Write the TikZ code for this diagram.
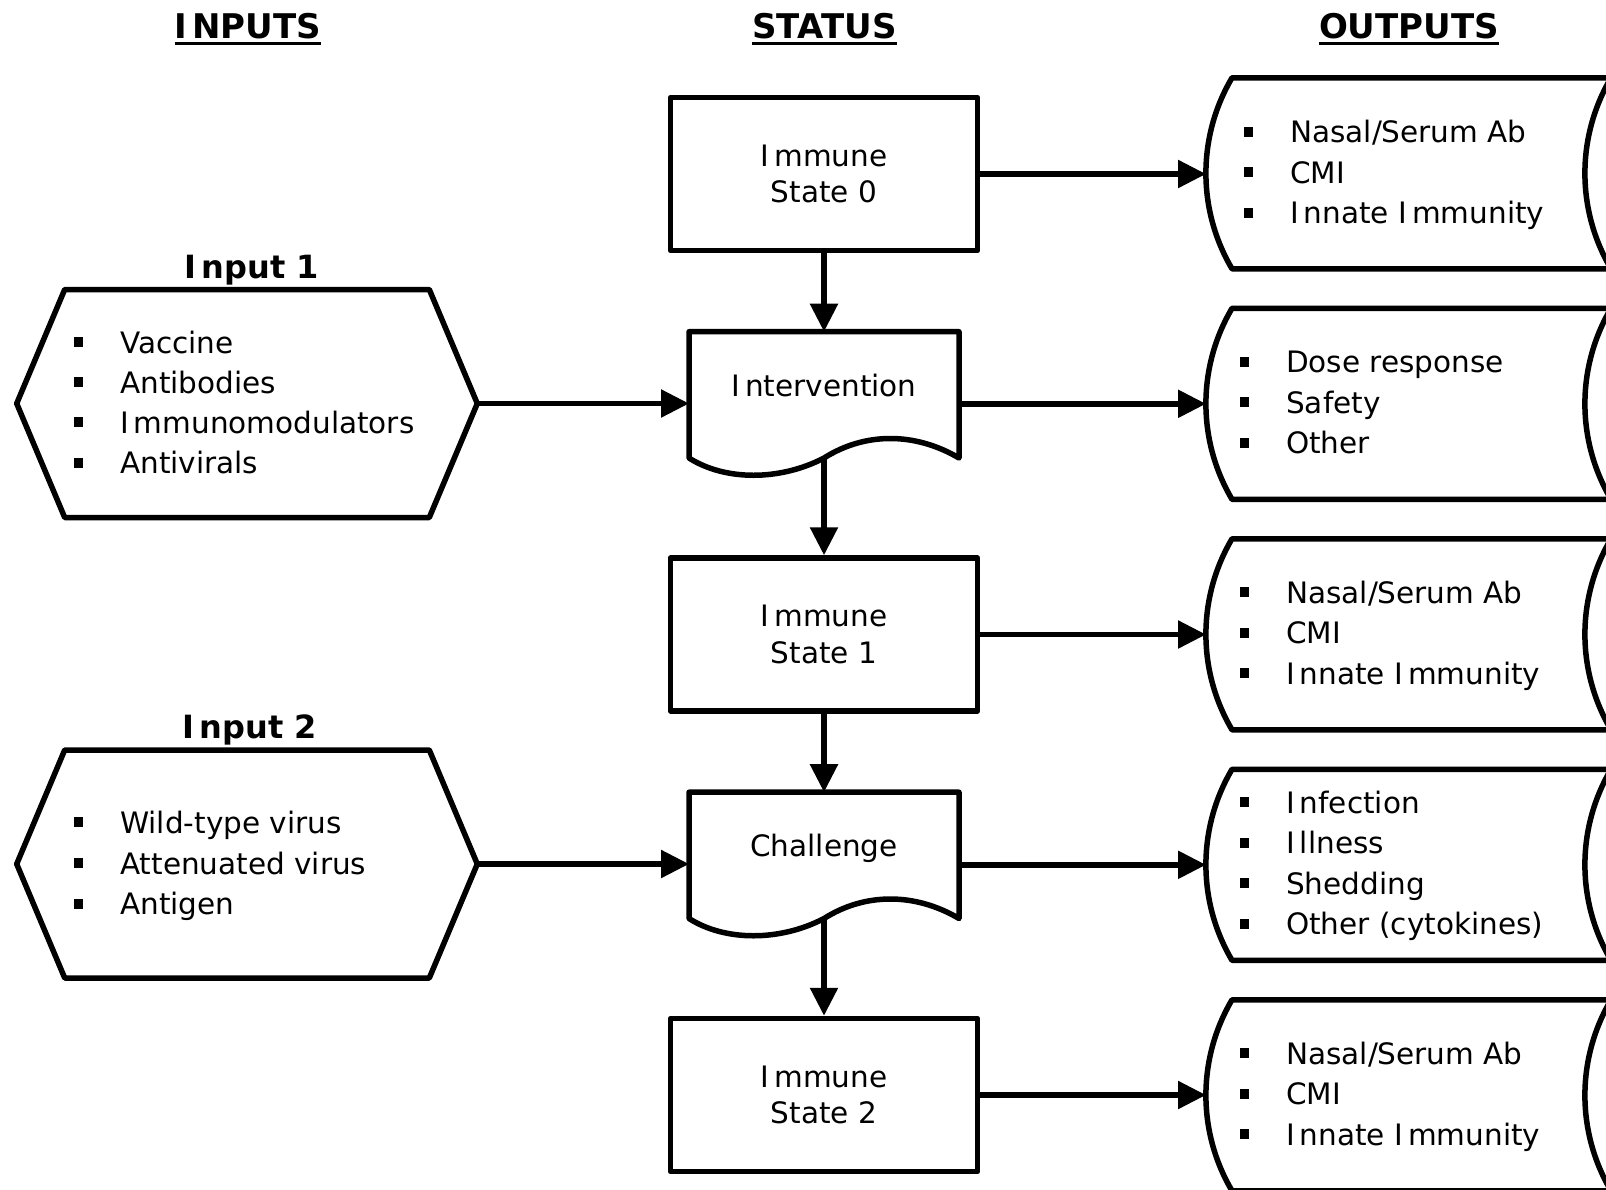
\documentclass[tikz,border=0pt]{standalone}
\usepackage{fontspec}
\setmainfont{DejaVu Sans}
\usetikzlibrary{arrows.meta,calc}
\newcommand\Ig{I\kern5pt}
\newcommand\blt{\makebox[46.7pt][l]{\rule[6pt]{9.4pt}{10pt}}}
\newcommand\docpath[1]{\draw[shp] (#1.south west) -- (#1.north west) -- (#1.north east) -- (#1.south east)
  .. controls ($(#1.south east)+(-44,-26)$) and ($(#1.south)+(41,-26)$) .. (#1.south)
  .. controls ($(#1.south)+(-44,23)$) and ($(#1.south west)+(36,23)$) .. (#1.south west) -- cycle;}
\newcommand\storepath[1]{\draw[shp] ($(#1.north west)+(26,0)$) -- (#1.north east)
  .. controls ($(#1.north east)+(-34.8,59)$) and ($(#1.south east)+(-34.8,-59)$) .. (#1.south east)
  -- ($(#1.south west)+(26,0)$)
  .. controls ($(#1.south west)+(-8.8,-59)$) and ($(#1.north west)+(-8.8,59)$) .. ($(#1.north west)+(26,0)$) -- cycle;}
\newcommand\hexpath[1]{\draw[shp] (#1.west) -- ($(#1.north west)+(48,0)$) -- ($(#1.north east)+(-48,0)$) -- (#1.east)
  -- ($(#1.south east)+(-48,0)$) -- ($(#1.south west)+(48,0)$) -- cycle;}
\begin{document}
\begin{tikzpicture}[x=1pt,y=-1pt,
  every node/.style={inner sep=0pt},
  lw/.style={line width=5.5pt, line join=round},
  shp/.style={lw, draw, fill=white},
  txt/.style={font=\fontsize{29.5}{36.7}\selectfont},
  statebox/.style={lw, draw, minimum width=307pt, minimum height=153pt, align=center, txt},
  ghost/.style={outer sep=0pt, draw=none},
  docbox/.style={ghost, minimum width=270pt, minimum height=126.3pt},
  hexbox/.style={ghost, minimum width=460.6pt, minimum height=228pt},
  storebox/.style={ghost, minimum width=405pt, minimum height=191pt},
  item/.style={anchor=base west, font=\fontsize{29.5}{40.5}\selectfont},
  lbl/.style={anchor=base, font=\fontsize{29.5}{40.5}\selectfont},
  hdr/.style={anchor=base, font=\fontsize{34}{40}\selectfont\bfseries},
  inlbl/.style={anchor=base, font=\fontsize{32}{40}\selectfont\bfseries},
  arr/.style={line width=5.5pt, -{Triangle[length=28pt,width=27pt]}},
  uline/.style={line width=2.8pt},
]
\useasboundingbox (0,0) rectangle (1606,1189);
\fill[white] (0,0) rectangle (1606,1189);
\begin{scope}
\clip (0,0) rectangle (1606,1189);

% headers
\node[hdr] (hin) at (248,38.3) {\Ig NPUTS};
\node[hdr] (hst) at (824.5,38.3) {STATUS};
\node[hdr] (hout) at (1409,38.3) {OUTPUTS};
\foreach \h in {hin,hst,hout}
  \draw[uline] ($(\h.base west)+(0,5.5)$) -- ($(\h.base east)+(0,5.5)$);

% status column
\node[statebox] (st0) at (824,174) {\Ig mmune\\State 0};
\node[statebox] (st1) at (824,634.5) {\Ig mmune\\State 1};
\node[statebox] (st2) at (824,1095) {\Ig mmune\\State 2};
\node[docbox] (int) at (824,394.85) {};
\node[docbox] (chal) at (824,855.35) {};
\docpath{int}
\docpath{chal}
\node[lbl] (intlbl) at (824,396) {\Ig ntervention};
\node[lbl] (challbl) at (824,856.5) {Challenge};

% inputs
\node[hexbox] (h1) at (247,403.5) {};
\node[hexbox] (h2) at (247,864) {};
\hexpath{h1}
\hexpath{h2}
\node[inlbl] (in1lbl) at (252,278.3) {\Ig nput 1};
\node[inlbl] (in2lbl) at (250,738.3) {\Ig nput 2};
\foreach \t [count=\k from 0] in {Vaccine,Antibodies,\Ig mmunomodulators,Antivirals}
  \node[item] (h1i\k) at (73.3,{353+40.2*\k}) {\blt\t};
\foreach \t [count=\k from 0] in {Wild-type virus,Attenuated virus,Antigen}
  \node[item] (h2i\k) at (73.3,{833.3+40.8*\k}) {\blt\t};

% outputs
\node[storebox] (out1) at (1408.5,173.3) {};
\node[storebox] (out2) at (1408.5,403.8) {};
\node[storebox] (out3) at (1408.5,634.3) {};
\node[storebox] (out4) at (1408.5,864.8) {};
\node[storebox] (out5) at (1408.5,1095.3) {};
\foreach \o in {out1,out2,out3,out4,out5} {\storepath{\o}}
\foreach \t [count=\k from 0] in {Nasal/Serum Ab,CMI,\Ig nnate \Ig mmunity}
  \node[item] (o1i\k) at (1243.3,{142.7+40.5*\k}) {\blt\t};
\foreach \t [count=\k from 0] in {Dose response,Safety,Other}
  \node[item] (o2i\k) at (1239.3,{372.7+40.5*\k}) {\blt\t};
\foreach \t [count=\k from 0] in {Nasal/Serum Ab,CMI,\Ig nnate \Ig mmunity}
  \node[item] (o3i\k) at (1239.3,{603.3+40.5*\k}) {\blt\t};
\foreach \t [count=\k from 0] in {\Ig nfection,\Ig llness,Shedding,{Other (cytokines)}}
  \node[item] (o4i\k) at (1239.3,{813.3+40.5*\k}) {\blt\t};
\foreach \t [count=\k from 0] in {Nasal/Serum Ab,CMI,\Ig nnate \Ig mmunity}
  \node[item] (o5i\k) at (1239.3,{1064+40.5*\k}) {\blt\t};

% connectors
\draw[arr] (st0.south) -- (int.north);
\draw[arr] (int.south) -- (st1.north);
\draw[arr] (st1.south) -- (chal.north);
\draw[arr] (chal.south) -- (st2.north);
\draw[arr] (h1.east) -- (h1.east -| int.west);
\draw[arr] (h2.east) -- (h2.east -| chal.west);
\draw[arr] (st0.east) -- (st0.east -| out1.west);
\draw[arr] (int.east |- out2.west) -- (out2.west);
\draw[arr] (st1.east) -- (st1.east -| out3.west);
\draw[arr] (chal.east |- out4.west) -- (out4.west);
\draw[arr] (st2.east) -- (st2.east -| out5.west);
\end{scope}
\end{tikzpicture}
\end{document}
